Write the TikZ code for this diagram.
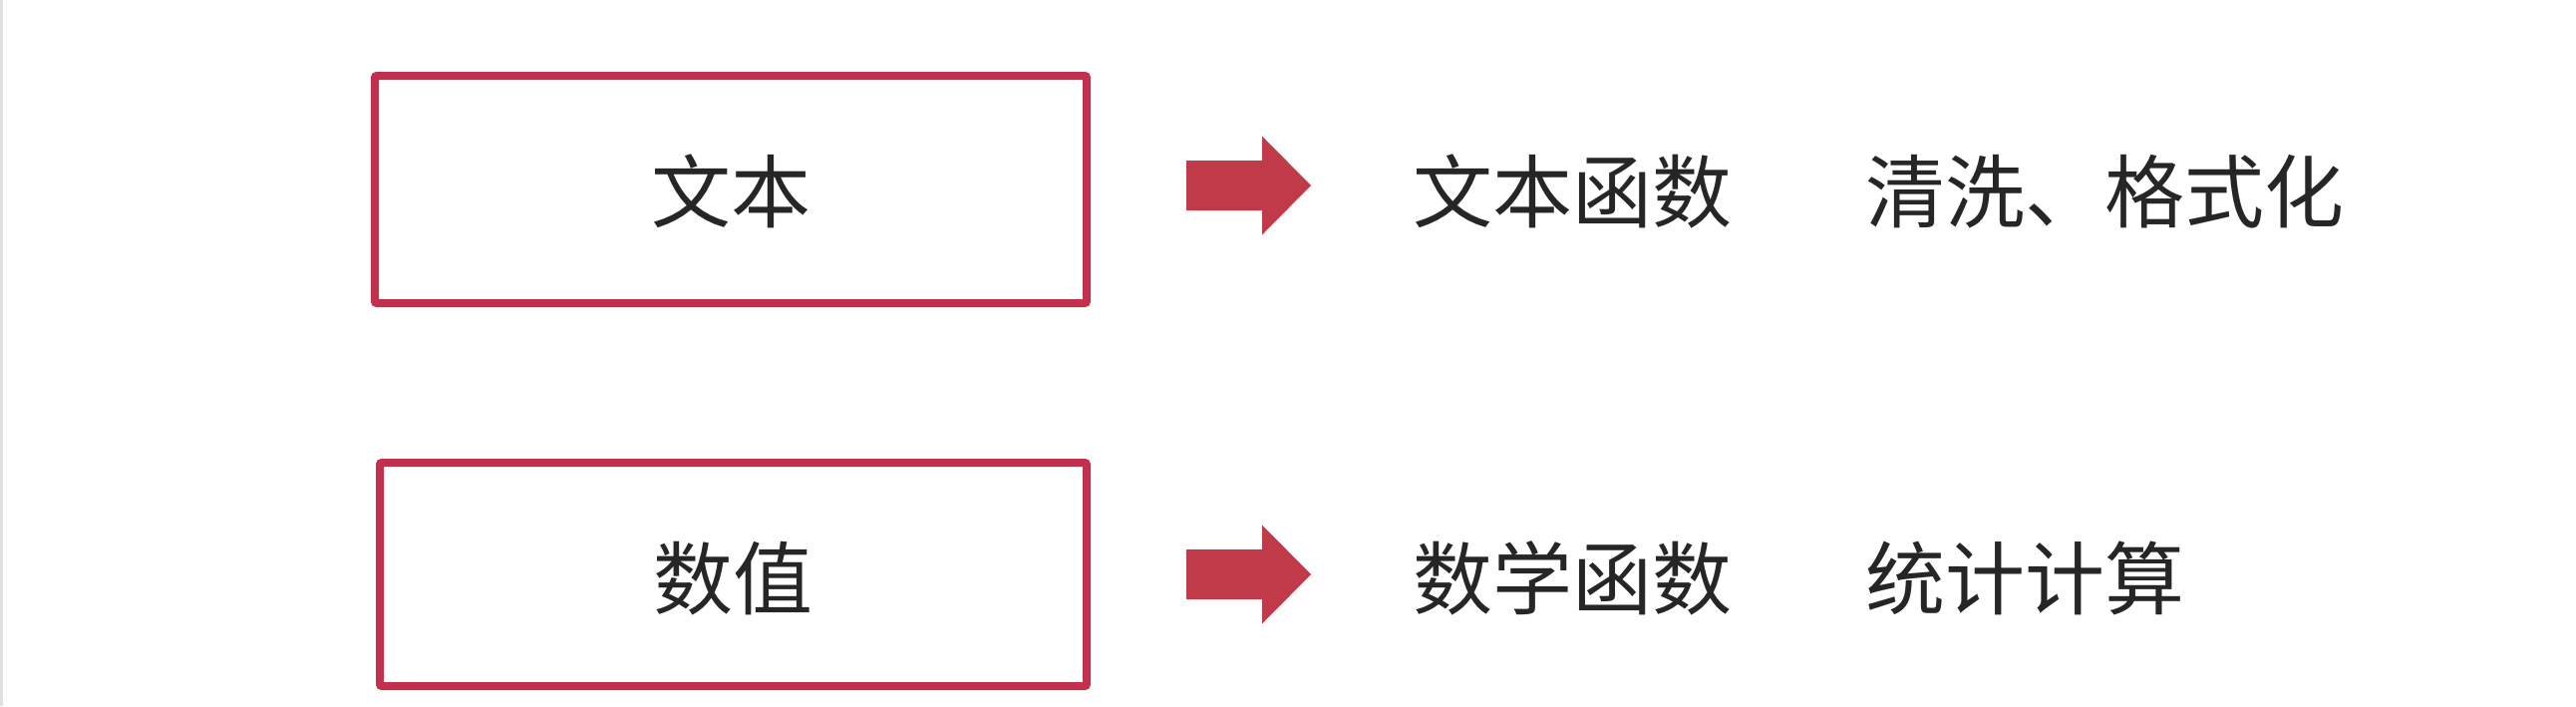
\documentclass[tikz,border=0pt]{standalone}
\usepackage{fontspec}
\setmainfont{Noto Sans CJK SC}
\definecolor{boxred}{HTML}{C2304F}
\definecolor{arrred}{HTML}{C03A4A}
\definecolor{txt}{HTML}{262626}
\begin{document}
\begin{tikzpicture}[x=0.3pt,y=-0.3pt,
  catbox/.style={draw=boxred,line width=2.4pt,rounded corners=0.6pt,inner sep=0pt},
  lbl/.style={inner sep=0pt,text=txt,font=\fontsize{24pt}{28pt}\selectfont}]
\fill[white] (0,0) rectangle (2584,708);
\useasboundingbox (0,0) rectangle (2584,708);
\fill[gray!25] (0,0) rectangle (3,708);
% boxes
\node[catbox,minimum width=214.2pt,minimum height=68.4pt] (b1) at (733,190) {};
\node[catbox,minimum width=212.7pt,minimum height=67.2pt] (b2) at (735.5,576) {};
\node[lbl,anchor=base] (t1) at (733,222) {文本};
\node[lbl,anchor=base] (t2) at (735,610) {数值};
% arrows
\coordinate (a1) at (1190,186);
\coordinate (a2) at (1190,576);
\foreach \a in {a1,a2}{
  \fill[arrred] (\a) ++(0,-25) -- ++(76,0) -- ++(0,-24.5) -- ++(49,49.5) -- ++(-49,49.5) -- ++(0,-24.5) -- ++(-76,0) -- cycle;
}
% right texts
\node[lbl,anchor=base west] (f1) at (1417,222) {文本函数};
\node[lbl,anchor=base west] (d1) at (1871,222) {清洗、格式化};
\node[lbl,anchor=base west] (f2) at (1417,610) {数学函数};
\node[lbl,anchor=base west] (d2) at (1871,610) {统计计算};
\end{tikzpicture}
\end{document}
